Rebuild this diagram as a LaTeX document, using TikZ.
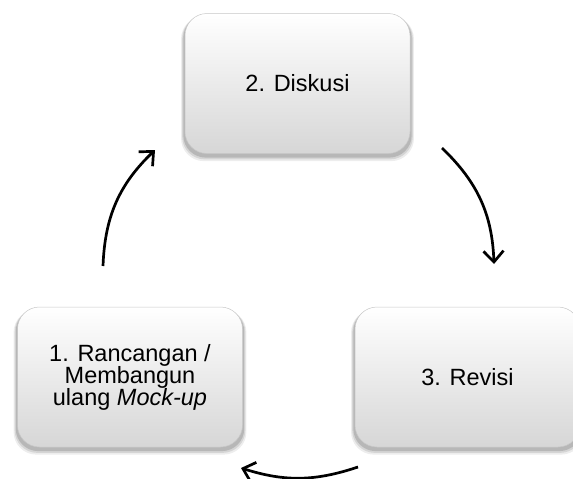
\documentclass[tikz,border=0pt]{standalone}
\usepackage{fontspec}
\setmainfont{Liberation Sans}
\usetikzlibrary{arrows.meta,shadows}
\tikzset{
  stepbox/.style={rectangle, rounded corners=22pt, minimum width=225pt, minimum height=140pt,
    top color=white, bottom color=black!16, draw=black!22, line width=0.5pt,
    general shadow={shadow scale=1.035, shadow yshift=-5pt, fill=black, opacity=0.07},
    general shadow={shadow scale=1.025, shadow yshift=-4pt, fill=black, opacity=0.10},
    general shadow={shadow scale=1.015, shadow yshift=-3pt, fill=black, opacity=0.14},
    align=center, font=\fontsize{23.5}{22}\selectfont},
  flow/.style={line width=2.7pt, -{Straight Barb[length=11pt, width=20pt, line width=2.7pt]}}
}

\begin{document}
\begin{tikzpicture}[x=1pt, y=1pt]
		%%%%% START %%%%%
		\useasboundingbox (0, 0) rectangle (573, -479);
		
		\node[stepbox] (diskusi) at (297.5, -83.5) {2. Diskusi};
		\node[stepbox] (rancangan) at (130, -377) {1. Rancangan /\\Membangun\\ulang \textit{Mock-up}};
		\node[stepbox] (revisi) at (467.5, -377) {3. Revisi};
		
		\coordinate (up start) at (103, -266);
		\coordinate (up end) at (155, -150);
		\coordinate (down start) at (442, -148);
		\coordinate (down end) at (494, -264);
		\coordinate (back start) at (358, -467);
		\coordinate (back end) at (241, -468);
		
		\draw[flow] (up start) to[bend left=22] (up end);
		\draw[flow] (down start) to[bend left=22] (down end);
		\draw[flow] (back start) to[bend left=18] (back end);
		
		%%%%% END %%%%%
\end{tikzpicture}
\end{document}
